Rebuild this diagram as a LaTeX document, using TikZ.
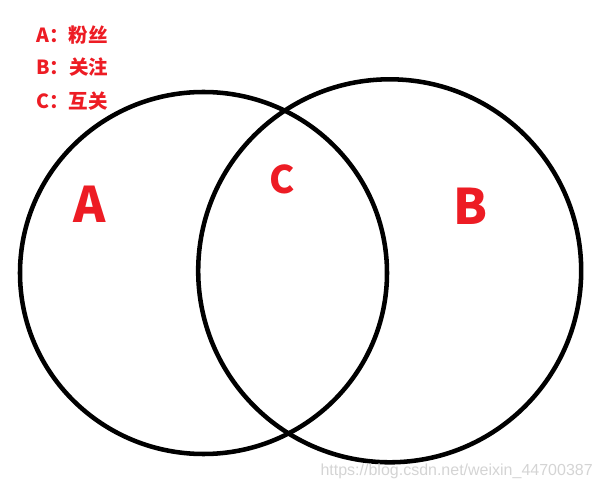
\documentclass[tikz,border=0pt]{standalone}
\usepackage{fontspec}
\usetikzlibrary{shapes.geometric}
\newfontfamily\cjk{Noto Sans CJK SC}
\newfontfamily\markfont{Liberation Sans}
\definecolor{paintred}{HTML}{ED1C24}
\definecolor{markgray}{HTML}{D4D4D4}
\tikzset{
	setring/.style={draw=black,line width=3.4pt,ellipse,inner sep=0pt},
	biglabel/.style={text=paintred,inner sep=0pt,anchor=base,font=\cjk\bfseries\fontsize{#1}{#1}\selectfont},
	keylabel/.style={text=paintred,inner sep=0pt,anchor=base west,font=\cjk\bfseries\fontsize{14.6pt}{16pt}\selectfont},
	watermark/.style={text=markgray,inner sep=0pt,anchor=base east,font=\markfont\fontsize{12pt}{13pt}\selectfont}
}

\begin{document}
\begin{tikzpicture}[x=0.75pt,y=-0.75pt]
		\useasboundingbox (0,0) rectangle (604,488);

		\node[keylabel]		(keyA) at (36,42.7)		{A：粉丝};
		\node[keylabel]		(keyB) at (36,75)		{B：关注};
		\node[keylabel]		(keyC) at (36,108.3)	{C：互关};

		\node[setring,minimum width=367*0.75pt,minimum height=362*0.75pt]	(fans) at (203.5,273) {};
		\node[setring,minimum width=383*0.75pt,minimum height=383*0.75pt]	(follow) at (389.7,270.8) {};

		\node[biglabel=36.75pt]	(labA) at (89.5,222.7)	{A};
		\node[biglabel=36.75pt]	(labB) at (471,224.3)	{B};
		\node[biglabel=28.5pt]	(labC) at (282,193.3)	{C};

		\node[watermark]	(mark) at (593,476)	{https://blog.csdn.net/weixin\_44700387};
	\end{tikzpicture}
\end{document}
